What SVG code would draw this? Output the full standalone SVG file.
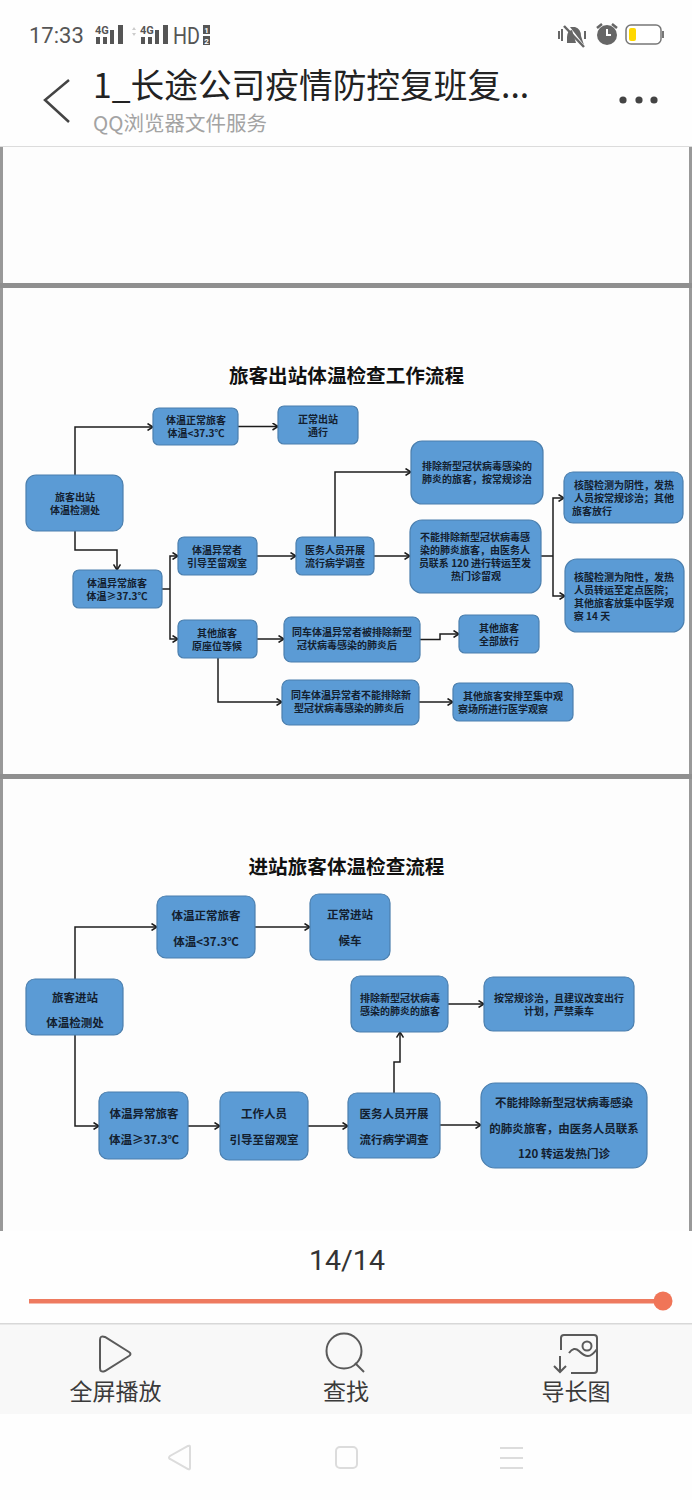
<svg xmlns="http://www.w3.org/2000/svg" width="692" height="1500" viewBox="0 0 692 1500">
<style>
text{font-family:"Noto Sans CJK SC","Noto Sans",sans-serif}
.n{fill:#5b9bd5;stroke:#4b7fae;stroke-width:1.2}
.s{font-size:10px;font-weight:700;fill:#13202f;text-anchor:middle}
.b{font-size:11.500px;font-weight:700;fill:#13202f;text-anchor:middle}
.c{fill:none;stroke:#1c1c1c;stroke-width:1.500;marker-end:url(#a)}
.l{fill:none;stroke:#1c1c1c;stroke-width:1.500}
.t{font-size:19.600px;font-weight:700;fill:#111;text-anchor:middle}
.ui{fill:none;stroke:#5a5a5a;stroke-width:2}
.nav{fill:none;stroke:#dcdcdc;stroke-width:2}
.tab{font-size:23px;fill:#3a3a3a;text-anchor:middle}
.st{font-family:Roboto,sans-serif;fill:#555}
.sim{font-family:Roboto,sans-serif;font-size:8px;font-weight:700;fill:#fff;text-anchor:middle}
</style>
<defs><marker id="a" markerWidth="8" markerHeight="8" refX="6.500" refY="4" orient="auto" markerUnits="userSpaceOnUse"><path d="M1 .5L6.500 4L1 7.500" fill="none" stroke="#1c1c1c" stroke-width="1.500"/></marker></defs>
<rect width="692" height="1500" fill="#fefefe"/>
<g id="page">
<rect x="0" y="147" width="692" height="1084" fill="#fdfdfd"/>
<rect x="0" y="147" width="3" height="1084" fill="#999"/>
<rect x="689" y="147" width="3" height="1084" fill="#999"/>
<rect x="0" y="283" width="692" height="5" fill="#8f8f8f"/>
<rect x="0" y="774" width="692" height="5" fill="#8f8f8f"/>
<rect x="0" y="146" width="692" height="1" fill="#dcdcdc"/>
</g>
<g id="statusbar">
<text class="st" x="29" y="43" font-size="22">17:33</text>
<text class="st" x="95" y="34" font-size="11" font-weight="700">4G</text>
<path d="M96 37h4v7h-4zM103 37h4v7h-4zM110 30h4v14h-4zM118 25h5v19h-5z" fill="#555"/>
<path d="M132 30l2-3 2 3zM132 33l2 3 2-3z" fill="#ccc"/>
<text class="st" x="140" y="34" font-size="11" font-weight="700">4G</text>
<path d="M141 37h4v7h-4zM148 37h4v7h-4zM155 30h4v14h-4zM163 25h5v19h-5z" fill="#555"/>
<text class="st" x="173" y="44" font-size="23" textLength="27" lengthAdjust="spacingAndGlyphs">HD</text>
<rect x="203" y="25" width="7" height="9" fill="#555"/><rect x="203" y="36" width="7" height="9" fill="#555"/>
<text class="sim" x="206.500" y="32.500">1</text><text class="sim" x="206.500" y="43.500">2</text>
<path d="M572 30q-5 1-5 7v6l9 0zM570 27l5 0q6 2 6 9l3 9z" fill="#666"/>
<path d="M564 26l20 21" stroke="#666" stroke-width="2.500"/>
<path d="M559 31v8M562 29v12M585 31v8" stroke="#666" stroke-width="2"/>
<circle cx="607" cy="35" r="10" fill="#666"/><path d="M607 29v6h4" stroke="#fff" stroke-width="2" fill="none"/>
<path d="M597 28l5-4M617 28l-5-4" stroke="#666" stroke-width="2.500"/>
<rect x="626" y="25" width="35" height="19" rx="5" fill="#fff" stroke="#777" stroke-width="1.500"/>
<rect x="629" y="28" width="7" height="13" rx="2" fill="#ffd800"/>
<rect x="662" y="31" width="2" height="7" fill="#777"/>
</g>
<g id="header">
<path d="M69 80L45 100L69 122" fill="none" stroke="#444" stroke-width="2.500"/>
<text x="93" y="98" font-size="33.700" fill="#222">1_长途公司疫情防控复班复...</text>
<text x="93" y="131" font-size="20.500" fill="#a3a3a3">QQ浏览器文件服务</text>
<circle cx="623" cy="100" r="3.600" fill="#444"/><circle cx="639" cy="100" r="3.600" fill="#444"/><circle cx="654" cy="100" r="3.600" fill="#444"/>
</g>
<text class="t" x="346.500" y="383">旅客出站体温检查工作流程</text>
<text class="t" x="346.500" y="874">进站旅客体温检查流程</text>
<g id="connectors">
<path class="c" d="M75 475V427H153"/>
<path class="c" d="M238 426.500H278"/>
<path class="c" d="M75 531V550H117V570"/>
<path class="l" d="M162 589H170"/>
<path class="c" d="M170 589V556H178"/>
<path class="c" d="M170 589V639H178"/>
<path class="c" d="M257 556H296"/>
<path class="c" d="M374 556H410"/>
<path class="c" d="M335 537V472H411"/>
<path class="l" d="M541 556H553"/>
<path class="c" d="M553 556V498H564"/>
<path class="c" d="M553 556V596H565"/>
<path class="c" d="M257 639H284"/>
<path class="c" d="M420 639.500H440V634H459"/>
<path class="c" d="M218 658V702H282"/>
<path class="c" d="M419 702H453"/>
<path class="c" d="M75 979V927H157"/>
<path class="c" d="M255 927H310"/>
<path class="c" d="M75 1035V1126H99"/>
<path class="c" d="M188 1126H220"/>
<path class="c" d="M308 1126H348"/>
<path class="c" d="M394 1093V1062H400V1032"/>
<path class="c" d="M448 1004H484"/>
<path class="c" d="M440 1125H481"/>
</g>
<g id="n1"><rect class="n" x="26" y="475" width="97" height="56" rx="10"/><text class="s" x="75" y="501">旅客出站</text><text class="s" x="75" y="514">体温检测处</text></g>
<g id="n2"><rect class="n" x="153" y="408" width="85" height="37" rx="6"/><text class="s" x="196" y="424">体温正常旅客</text><text class="s" x="196" y="437">体温&lt;37.3℃</text></g>
<g id="n3"><rect class="n" x="278" y="406" width="80" height="38" rx="6"/><text class="s" x="318" y="423">正常出站</text><text class="s" x="318" y="436">通行</text></g>
<g id="n4"><rect class="n" x="73" y="570" width="89" height="38" rx="6"/><text class="s" x="117" y="587">体温异常旅客</text><text class="s" x="117" y="600">体温≥37.3℃</text></g>
<g id="n5"><rect class="n" x="178" y="537" width="79" height="38" rx="6"/><text class="s" x="217" y="554">体温异常者</text><text class="s" x="217" y="567">引导至留观室</text></g>
<g id="n6"><rect class="n" x="296" y="537" width="78" height="38" rx="6"/><text class="s" x="335" y="554">医务人员开展</text><text class="s" x="335" y="567">流行病学调查</text></g>
<g id="n7"><rect class="n" x="178" y="620" width="79" height="38" rx="6"/><text class="s" x="217" y="637">其他旅客</text><text class="s" x="217" y="650">原座位等候</text></g>
<g id="n8"><rect class="n" x="284" y="617" width="136" height="45" rx="7"/><text class="s" x="352" y="636">同车体温异常者被排除新型</text><text class="s" x="347" y="649">冠状病毒感染的肺炎后</text></g>
<g id="n9"><rect class="n" x="282" y="680" width="137" height="45" rx="7"/><text class="s" x="351" y="699">同车体温异常者不能排除新</text><text class="s" x="349" y="712">型冠状病毒感染的肺炎后</text></g>
<g id="n10"><rect class="n" x="411" y="441" width="132" height="63" rx="11"/><text class="s" x="477" y="470">排除新型冠状病毒感染的</text><text class="s" x="477" y="483">肺炎的旅客，按常规诊治</text></g>
<g id="n11"><rect class="n" x="410" y="520" width="131" height="73" rx="12"/><text class="s" x="475" y="541">不能排除新型冠状病毒感</text><text class="s" x="475" y="554">染的肺炎旅客，由医务人</text><text class="s" x="475" y="567">员联系 120 进行转运至发</text><text class="s" x="476" y="580">热门诊留观</text></g>
<g id="n12"><rect class="n" x="564" y="472" width="119" height="51" rx="9"/><text class="s" x="624" y="489">核酸检测为阴性，发热</text><text class="s" x="624" y="502">人员按常规诊治；其他</text><text class="s" x="592" y="515">旅客放行</text></g>
<g id="n13"><rect class="n" x="565" y="559" width="119" height="73" rx="12"/><text class="s" x="624" y="581">核酸检测为阳性，发热</text><text class="s" x="624" y="594">人员转运至定点医院；</text><text class="s" x="624" y="607">其他旅客放集中医学观</text><text class="s" x="592" y="620">察 14 天</text></g>
<g id="n14"><rect class="n" x="459" y="615" width="80" height="38" rx="6"/><text class="s" x="499" y="632">其他旅客</text><text class="s" x="499" y="645">全部放行</text></g>
<g id="n15"><rect class="n" x="453" y="683" width="120" height="38" rx="6"/><text class="s" x="513" y="700">其他旅客安排至集中观</text><text class="s" x="503" y="713">察场所进行医学观察</text></g>
<g id="n16"><rect class="n" x="26" y="979" width="97" height="56" rx="9"/><text class="b" x="75" y="1002">旅客进站</text><text class="b" x="75" y="1027">体温检测处</text></g>
<g id="n17"><rect class="n" x="157" y="896" width="98" height="62" rx="9"/><text class="b" x="206" y="920">体温正常旅客</text><text class="b" x="206" y="946">体温&lt;37.3℃</text></g>
<g id="n18"><rect class="n" x="310" y="894" width="80" height="66" rx="9"/><text class="b" x="350" y="919">正常进站</text><text class="b" x="350" y="945">候车</text></g>
<g id="n19"><rect class="n" x="99" y="1092" width="89" height="67" rx="9"/><text class="b" x="144" y="1118">体温异常旅客</text><text class="b" x="144" y="1144">体温≥37.3℃</text></g>
<g id="n20"><rect class="n" x="220" y="1092" width="88" height="68" rx="9"/><text class="b" x="264" y="1118">工作人员</text><text class="b" x="264" y="1144">引导至留观室</text></g>
<g id="n21"><rect class="n" x="348" y="1093" width="92" height="65" rx="9"/><text class="b" x="394" y="1118">医务人员开展</text><text class="b" x="394" y="1144">流行病学调查</text></g>
<g id="n22"><rect class="n" x="351" y="976" width="97" height="56" rx="9"/><text class="s" x="400" y="1002">排除新型冠状病毒</text><text class="s" x="400" y="1015">感染的肺炎的旅客</text></g>
<g id="n23"><rect class="n" x="484" y="977" width="150" height="54" rx="9"/><text class="s" x="559" y="1002">按常规诊治，且建议改变出行</text><text class="s" x="559" y="1015">计划，严禁乘车</text></g>
<g id="n24"><rect class="n" x="481" y="1083" width="166" height="85" rx="14"/><text class="b" x="564" y="1107">不能排除新型冠状病毒感染</text><text class="b" x="564" y="1133">的肺炎旅客，由医务人员联系</text><text class="b" x="564" y="1158">120 转运发热门诊</text></g>
<g id="pager">
<rect x="0" y="1231" width="692" height="93" fill="#fefefe"/>
<text x="347" y="1270" font-size="28.500" fill="#333" text-anchor="middle" style="font-family:Roboto,sans-serif">14/14</text>
<rect x="29" y="1299" width="634" height="4.500" fill="#ee7a5f"/>
<circle cx="663" cy="1301" r="9.500" fill="#f07558"/>
</g>
<g id="toolbar">
<rect x="0" y="1324" width="692" height="90" fill="#f8f8f8"/>
<rect x="0" y="1323" width="692" height="1.500" fill="#d8d8d8"/>
<path class="ui" stroke-width="3" d="M100 1340q0-5 5-3l24 15q3 2 0 4l-24 15q-5 2-5-3z"/>
<circle class="ui" cx="344" cy="1351" r="17.500" stroke-width="3"/>
<path class="ui" stroke-width="3" d="M355 1363l9 9"/>
<path class="ui" stroke-width="2.500" d="M561 1350v-12q0-3 3-3h30q3 0 3 3v32q0 3-3 3h-23M569 1353q5-7 10-2t9 5 9-7M560 1356v16M554 1366l6 6 6-6"/>
<circle class="ui" cx="587" cy="1346" r="4.500" stroke-width="2"/>
<text class="tab" x="115.500" y="1400">全屏播放</text>
<text class="tab" x="346" y="1400">查找</text>
<text class="tab" x="576" y="1400">导长图</text>
</g>
<g id="navbar">
<path class="nav" stroke-width="3" d="M190 1447v21q0 2-2 1l-18-10q-2-1 0-3l18-10q2-1 2 1z"/>
<rect class="nav" x="336" y="1447" width="21" height="21" rx="4"/>
<path class="nav" d="M500 1448h23M500 1458h23M500 1468h23"/>
</g>
</svg>
